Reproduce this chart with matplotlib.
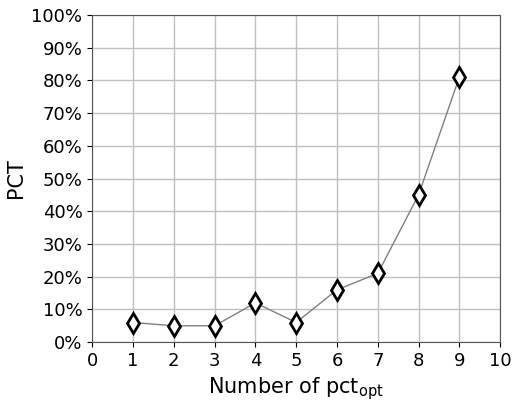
import numpy as np
import matplotlib.pyplot as plt
from matplotlib.ticker import PercentFormatter

n_opt = [1, 2, 3, 4, 5, 6, 7, 8, 9]
pct = [6, 5, 5, 12, 6, 16, 21, 45, 81]
x_ticks = list(range(0, 11))
y_ticks = list(range(0, 101, 10))

fig, ax = plt.subplots(figsize=(5.21, 4.03), dpi=100)
ax.plot(n_opt, pct, color='grey', linewidth=1, marker='d', markersize=10,
        markerfacecolor='white', markeredgecolor='black', markeredgewidth=2)
ax.set_xlim(0, 10)
ax.set_ylim(0, 100)
ax.set_xticks(x_ticks)
ax.set_yticks(y_ticks)
ax.yaxis.set_major_formatter(PercentFormatter(decimals=0))
ax.grid(True, color='#c0c0c0', linewidth=1)
ax.set_axisbelow(True)
ax.tick_params(labelsize=13)
for s in ax.spines.values():
    s.set_color('#555555')
ax.set_xlabel(r'Number of pct$_{\mathrm{opt}}$', fontsize=15)
ax.set_ylabel('PCT', fontsize=15)
fig.subplots_adjust(left=0.177, right=0.96, top=0.963, bottom=0.151)
fig.savefig('out.png')
